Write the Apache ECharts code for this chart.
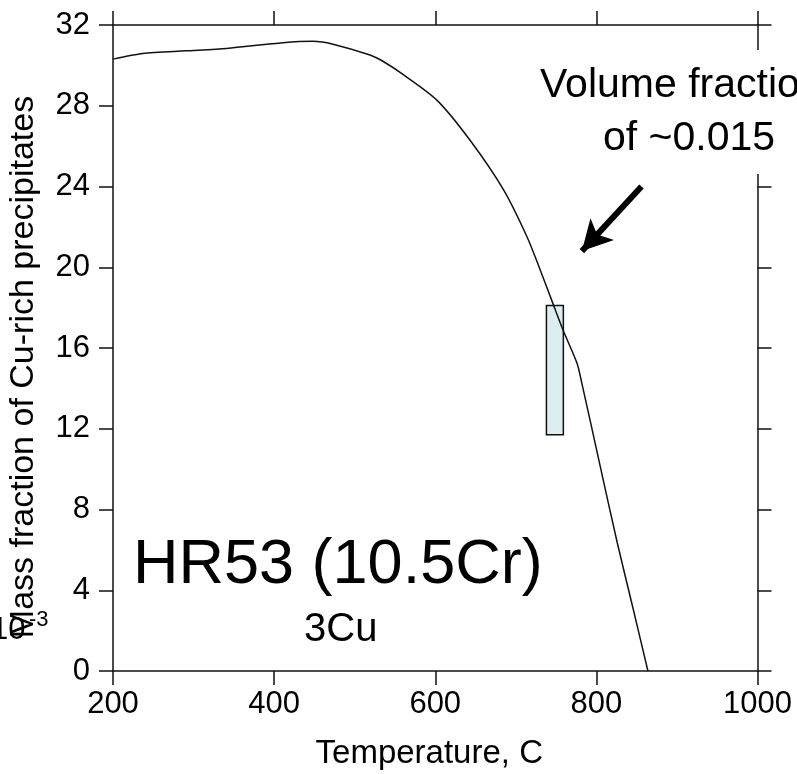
<!DOCTYPE html>
<html>
<head>
<meta charset="utf-8">
<script src="https://cdn.jsdelivr.net/npm/echarts@6/dist/echarts.min.js"></script>
<style>
	html, body { margin: 0; padding: 0; background: #fff; }
	#chart { width: 797px; height: 774px; }
</style>
</head>
<body>
<div id="chart"></div>
<script>
// curve
var temperature = [200, 237, 290, 341, 411, 448, 473, 519, 536, 560, 602, 643, 685, 714, 729, 746, 759, 776, 782, 805, 826, 846, 864];
var massFraction = [30.31, 30.59, 30.72, 30.84, 31.12, 31.19, 31.05, 30.51, 30.18, 29.55, 28.28, 26.30, 23.82, 21.5, 20.0, 18.21, 16.85, 15.24, 14.25, 10.1, 6.34, 3.02, 0];

var xRange = [200, 1000];
var yRange = [0, 32];
var xStep = 200;
var yStep = 4;

// shaded box and arrow (data units)
var boxCorners = [[738, 18.1], [759, 11.7]];
var arrowFrom = [856, 24.0];
var arrowTo = [782, 20.8];

var FONT = 'Liberation Sans, Arial, Helvetica, sans-serif';

var points = [];
for (var i = 0; i < temperature.length; i++)
{
	points.push([temperature[i], massFraction[i]]);
}

function frameAxis(position, showLabel, base)
{
	var axis =
	{
		type: 'value',
		position: position,
		axisLine: { show: true, onZero: false, lineStyle: { color: '#111', width: 1.5 } },
		axisTick: { show: true, inside: false, length: 14, lineStyle: { color: '#111', width: 1.5 } },
		axisLabel:
		{
			show: showLabel,
			color: '#000',
			fontSize: 31,
			fontFamily: FONT,
			margin: (position == 'left' || position == 'right') ? 23 : 18,
			formatter: function(v) { return String(v); }
		},
		splitLine: { show: false }
	};
	for (var k in base) axis[k] = base[k];
	return axis;
}

var chart = echarts.init(document.getElementById('chart'), null, { renderer: 'canvas' });

var options =
{
	animation: false,
	backgroundColor: '#fff',
	grid:
	{
		left: 113,
		right: 39.5,
		top: 25,
		bottom: 103,
		containLabel: false,
		outerBoundsMode: 'none'
	},
	xAxis:
	[
		frameAxis('bottom', true,
		{
			min: xRange[0], max: xRange[1], interval: xStep,
			name: 'Temperature, C',
			nameLocation: 'middle',
			nameGap: 66,
			nameTextStyle: { color: '#000', fontSize: 33, fontFamily: FONT, padding: [0, 12, 0, 0] }
		}),
		frameAxis('top', false, { min: xRange[0], max: xRange[1], interval: xStep })
	],
	yAxis:
	[
		frameAxis('left', true,
		{
			min: yRange[0], max: yRange[1], interval: yStep,
			name: 'Mass fraction of Cu-rich precipitates',
			nameLocation: 'middle',
			nameGap: 72,
			nameTextStyle: { color: '#000', fontSize: 34, fontFamily: FONT, padding: [0, 38, 0, 0] }
		}),
		frameAxis('right', false, { min: yRange[0], max: yRange[1], interval: yStep })
	],
	series:
	[
		{
			type: 'line',
			data: points,
			showSymbol: false,
			silent: true,
			smooth: 0.25,
			lineStyle: { color: '#111', width: 1.5 },
			markArea:
			{
				silent: true,
				label: { show: false },
				itemStyle: { color: '#ddeef1', borderColor: '#111', borderWidth: 1.5 },
				data: [[{ coord: boxCorners[0] }, { coord: boxCorners[1] }]]
			},
			markLine:
			{
				silent: true,
				symbol: ['none', 'arrow'],
				symbolSize: [24, 30],
				label: { show: false },
				lineStyle: { color: '#000', width: 6, type: 'solid' },
				data: [[{ coord: arrowFrom }, { coord: arrowTo }]]
			}
		}
	],
	graphic:
	[
		// hides the right frame behind the note, as in the figure
		{ type: 'rect', z: 50, shape: { x: 530, y: 50, width: 267, height: 124 }, style: { fill: '#fff' } },
		{ type: 'text', z: 60, x: 540, y: 86, style: { text: 'Volume fraction', font: '41px ' + FONT, fill: '#000', verticalAlign: 'middle' } },
		{ type: 'text', z: 60, x: 603, y: 139, style: { text: 'of ~0.015', font: '41px ' + FONT, fill: '#000', verticalAlign: 'middle' } },
		{ type: 'text', z: 60, x: 133, y: 566, style: { text: 'HR53 (10.5Cr)', font: '63px ' + FONT, fill: '#000', verticalAlign: 'middle' } },
		{ type: 'text', z: 60, x: 304, y: 630, style: { text: '3Cu', font: '40px ' + FONT, fill: '#000', verticalAlign: 'middle' } },
		{ type: 'text', z: 60, x: -9, y: 630, style: { text: '10', font: '31px ' + FONT, fill: '#000', verticalAlign: 'middle' } },
		{ type: 'text', z: 60, x: 29, y: 620, style: { text: '-3', font: '22px ' + FONT, fill: '#000', verticalAlign: 'middle' } }
	]
};

chart.setOption(options);
</script>
</body>
</html>
